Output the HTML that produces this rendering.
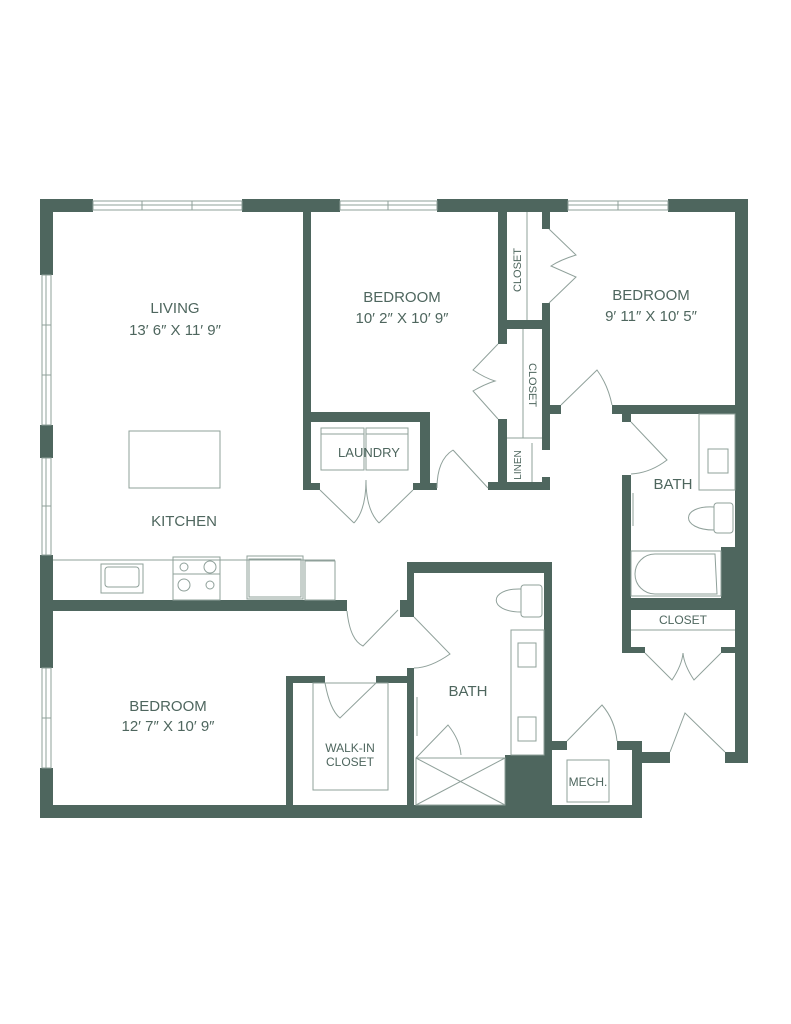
<!DOCTYPE html>
<html><head><meta charset="utf-8"><style>
html,body{margin:0;padding:0;background:#fff;}
svg{display:block;}
text{font-family:"Liberation Sans",sans-serif;fill:#4e665e;}
</style></head><body>
<svg width="791" height="1024" viewBox="0 0 791 1024" xmlns="http://www.w3.org/2000/svg">
<g fill="#4e665e">
<rect x="40" y="199" width="53" height="13"/>
<rect x="242" y="199" width="98" height="13"/>
<rect x="437" y="199" width="131" height="13"/>
<rect x="668" y="199" width="80" height="13"/>
<rect x="40" y="199" width="13" height="76"/>
<rect x="40" y="425" width="13" height="33"/>
<rect x="40" y="555" width="13" height="113"/>
<rect x="40" y="768" width="13" height="50"/>
<rect x="735" y="199" width="13" height="564"/>
<rect x="721" y="547" width="27" height="51"/>
<rect x="725" y="752" width="23" height="11"/>
<rect x="640" y="752" width="30" height="11"/>
<rect x="632" y="741" width="10" height="77"/>
<rect x="617" y="741" width="25" height="9"/>
<rect x="40" y="805" width="602" height="13"/>
<rect x="303" y="212" width="8" height="278"/>
<rect x="303" y="412" width="127" height="10"/>
<rect x="420" y="412" width="10" height="78"/>
<rect x="303" y="483" width="17" height="7"/>
<rect x="413" y="483" width="24" height="7"/>
<rect x="498" y="212" width="9" height="132"/>
<rect x="498" y="419" width="9" height="71"/>
<rect x="542" y="212" width="8" height="17"/>
<rect x="542" y="303" width="8" height="147"/>
<rect x="498" y="320" width="52" height="9"/>
<rect x="488" y="482" width="62" height="8"/>
<rect x="542" y="477" width="8" height="13"/>
<rect x="612" y="405" width="136" height="9"/>
<rect x="550" y="405" width="11" height="9"/>
<rect x="622" y="414" width="9" height="8"/>
<rect x="622" y="475" width="9" height="178"/>
<rect x="622" y="598" width="113" height="12"/>
<rect x="622" y="647" width="23" height="6"/>
<rect x="721" y="647" width="14" height="6"/>
<rect x="40" y="600" width="307" height="11"/>
<rect x="407" y="562" width="145" height="11"/>
<rect x="407" y="562" width="7" height="55"/>
<rect x="400" y="600" width="7" height="17"/>
<rect x="407" y="668" width="7" height="150"/>
<rect x="544" y="562" width="8" height="193"/>
<rect x="505" y="755" width="47" height="63"/>
<rect x="552" y="741" width="15" height="9"/>
<rect x="286" y="676" width="7" height="134"/>
<rect x="286" y="676" width="39" height="7"/>
<rect x="376" y="676" width="31" height="7"/>
</g>
<g fill="none" stroke="#8fa09a" stroke-width="1">
<rect x="93" y="201" width="149" height="9"/><line x1="93" y1="205" x2="242" y2="205"/><line x1="142" y1="201" x2="142" y2="210"/><line x1="192" y1="201" x2="192" y2="210"/>
<rect x="340" y="201" width="97" height="9"/><line x1="340" y1="205" x2="437" y2="205"/><line x1="388" y1="201" x2="388" y2="210"/>
<rect x="568" y="201" width="100" height="9"/><line x1="568" y1="205" x2="668" y2="205"/><line x1="618" y1="201" x2="618" y2="210"/>
<rect x="42" y="275" width="9" height="150"/><line x1="46" y1="275" x2="46" y2="425"/><line x1="42" y1="325" x2="51" y2="325"/><line x1="42" y1="375" x2="51" y2="375"/>
<rect x="42" y="458" width="9" height="97"/><line x1="46" y1="458" x2="46" y2="555"/><line x1="42" y1="506" x2="51" y2="506"/>
<rect x="42" y="668" width="9" height="100"/><line x1="46" y1="668" x2="46" y2="768"/><line x1="42" y1="718" x2="51" y2="718"/>
<rect x="129" y="431" width="91" height="57"/>
<rect x="321" y="428" width="43" height="42"/><rect x="366" y="428" width="42" height="42"/>
<line x1="321" y1="434" x2="364" y2="434"/><line x1="366" y1="434" x2="408" y2="434"/>
<line x1="53" y1="560" x2="335" y2="560"/>
<rect x="101" y="564" width="42" height="29"/><rect x="105" y="567" width="34" height="20" rx="3"/>
<rect x="173" y="557" width="47" height="43"/><line x1="173" y1="574" x2="220" y2="574"/>
<circle cx="184" cy="567" r="4"/><circle cx="210" cy="567" r="6"/><circle cx="184" cy="585" r="6"/><circle cx="210" cy="585" r="4"/>
<rect x="247" y="556" width="56" height="43"/><rect x="249" y="559" width="52" height="38"/>
<rect x="305" y="561" width="30" height="39"/>
<line x1="527" y1="212" x2="527" y2="320"/>
<line x1="523" y1="329" x2="523" y2="438"/>
<line x1="507" y1="438" x2="542" y2="438"/><line x1="532" y1="443" x2="532" y2="482"/>
<rect x="699" y="414" width="36" height="76"/><rect x="708" y="449" width="20" height="24"/>
<rect x="714" y="503" width="19" height="30" rx="3"/><path d="M714 507 C 680 505, 680 530, 714 530"/>
<rect x="631" y="551" width="90" height="45"/><path d="M655 554 L715 554 L717 594 L655 594 A20 20 0 0 1 655 554Z"/>
<line x1="631" y1="630" x2="735" y2="630"/>
<line x1="633" y1="493" x2="633" y2="526"/>
<rect x="521" y="585" width="21" height="32" rx="3"/><path d="M521 589 C 488 588, 488 612, 521 612"/>
<rect x="511" y="630" width="33" height="125"/>
<rect x="518" y="643" width="18" height="24"/><rect x="518" y="717" width="18" height="24"/>
<rect x="416" y="758" width="89" height="47"/><line x1="416" y1="758" x2="505" y2="805"/><line x1="505" y1="758" x2="416" y2="805"/>
<line x1="417" y1="697" x2="417" y2="736"/>
<rect x="567" y="760" width="42" height="42"/>
<rect x="313" y="683" width="75" height="107"/>
<path d="M320 490 L354 523 M413 490 L379 523 M366 480 Q366 510 354 523 M366 480 Q366 510 379 523"/>
<path d="M488 488 L453 450 M437 488 Q437 460 453 450"/>
<path d="M549 229 L576 255 Q560 260 551 266 Q560 270 576 277 L549 303"/>
<path d="M498 344 L473 370 Q485 378 495 381 Q485 384 473 391 L498 419"/>
<path d="M561 405 L597 370 Q608 385 612 405"/>
<path d="M631 422 L667 460 Q650 473 631 474"/>
<path d="M645 653 L672 680 Q682 665 683 653 M721 653 L694 680 Q684 665 683 653"/>
<path d="M567 741 L602 705 Q615 720 617 741"/>
<path d="M670 752 L685 713 L725 752"/>
<path d="M347 611 Q350 640 363 646 L398 610"/>
<path d="M414 617 L450 654 Q430 668 414 668"/>
<path d="M325 683 Q330 710 340 718 L376 683"/>
<path d="M416 758 L448 725 Q460 740 461 755"/>
</g>
<g font-size="15" text-anchor="middle">
<text x="175" y="313">LIVING</text>
<text x="175" y="335">13′ 6″ X 11′ 9″</text>
<text x="402" y="302">BEDROOM</text>
<text x="402" y="323">10′ 2″ X 10′ 9″</text>
<text x="651" y="300">BEDROOM</text>
<text x="651" y="321">9′ 11″ X 10′ 5″</text>
<text x="184" y="526">KITCHEN</text>
<text x="369" y="457" font-size="13">LAUNDRY</text>
<text x="673" y="489">BATH</text>
<text x="468" y="696">BATH</text>
<text x="168" y="711">BEDROOM</text>
<text x="168" y="731">12′ 7″ X 10′ 9″</text>
<text x="350" y="752" font-size="12">WALK-IN</text>
<text x="350" y="766" font-size="12">CLOSET</text>
<text x="683" y="624" font-size="12">CLOSET</text>
<text x="588" y="786" font-size="12">MECH.</text>
<text font-size="11" transform="translate(521 270) rotate(-90)">CLOSET</text>
<text font-size="11" transform="translate(529 385) rotate(90)">CLOSET</text>
<text font-size="10" transform="translate(521 465) rotate(-90)">LINEN</text>
</g>
</svg>
</body></html>
